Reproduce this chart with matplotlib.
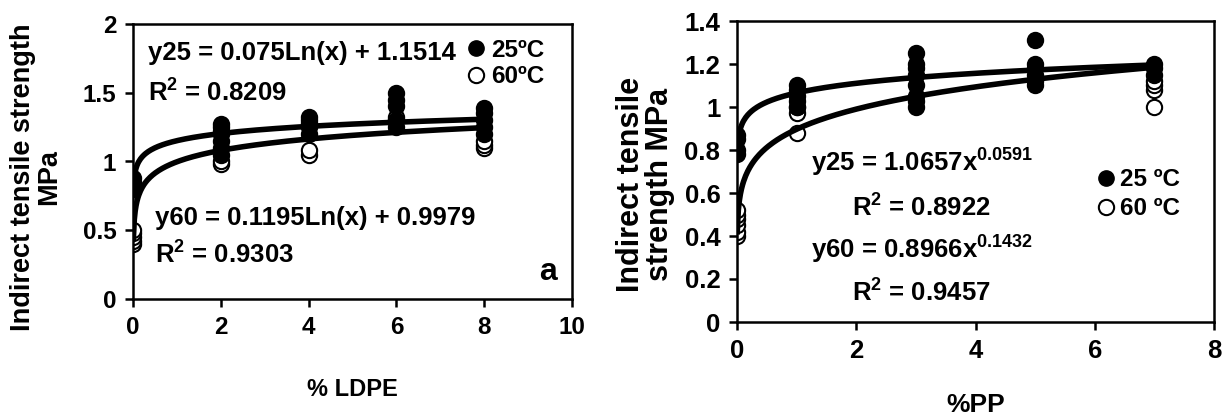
import numpy as np
import matplotlib as mpl
mpl.use('Agg')
import matplotlib.pyplot as plt
from matplotlib.lines import Line2D

plt.rcParams['font.family'] = ['Liberation Sans', 'DejaVu Sans']
plt.rcParams['font.weight'] = 'bold'
plt.rcParams['axes.labelweight'] = 'bold'
plt.rcParams['mathtext.default'] = 'regular'

# ---- panel a: LDPE ----
ldpe_x25 = [0, 0, 0, 0, 2, 2, 2, 2, 2, 2, 2, 4, 4, 4, 4, 4, 6, 6, 6, 6, 6, 8, 8, 8, 8, 8]
ldpe_y25 = [0.80, 0.82, 0.85, 0.88, 1.05, 1.10, 1.15, 1.20, 1.22, 1.25, 1.27,
            1.20, 1.25, 1.28, 1.30, 1.32, 1.25, 1.30, 1.40, 1.45, 1.50,
            1.20, 1.25, 1.30, 1.35, 1.39]
ldpe_x60 = [0, 0, 0, 0, 0, 2, 2, 4, 4, 6, 6, 8, 8, 8]
ldpe_y60 = [0.40, 0.42, 0.45, 0.48, 0.50, 0.98, 1.00, 1.05, 1.08, 1.30, 1.32, 1.10, 1.12, 1.15]
ldpe_fit25 = (0.075, 1.1514)   # a*ln(x) + b
ldpe_fit60 = (0.1195, 0.9979)

# ---- panel b: PP ----
pp_x25 = [0, 0, 0, 0, 1, 1, 1, 1, 1, 3, 3, 3, 3, 3, 3, 3, 3, 5, 5, 5, 5, 5, 5, 7, 7, 7]
pp_y25 = [0.78, 0.80, 0.85, 0.87, 1.00, 1.03, 1.05, 1.08, 1.10,
          1.00, 1.03, 1.05, 1.10, 1.15, 1.18, 1.20, 1.25,
          1.10, 1.12, 1.15, 1.18, 1.20, 1.31, 1.15, 1.18, 1.20]
pp_x60 = [0, 0, 0, 0, 0, 0, 1, 1, 1, 7, 7, 7, 7]
pp_y60 = [0.40, 0.42, 0.45, 0.48, 0.50, 0.52, 0.88, 0.97, 1.00, 1.00, 1.08, 1.10, 1.12]
pp_fit25 = (1.0657, 0.0591)    # a*x^b
pp_fit60 = (0.8966, 0.1432)

fig = plt.figure(figsize=(12.22, 4.15), dpi=100)
ax1 = fig.add_axes([133 / 1222, 1 - 299 / 415, 439 / 1222, 275 / 415])
ax2 = fig.add_axes([737 / 1222, 1 - 322 / 415, 477 / 1222, 301 / 415])

ms = 11
for ax in (ax1, ax2):
    for s in ax.spines.values():
        s.set_linewidth(1.8)
    ax.tick_params(direction='out', length=6, width=1.8, labelsize=17.5, pad=6)

# panel a
xs = np.linspace(0.01, 8, 400)
ax1.plot(xs, ldpe_fit25[0] * np.log(xs) + ldpe_fit25[1], color='black', lw=4, zorder=3)
ax1.plot(xs, ldpe_fit60[0] * np.log(xs) + ldpe_fit60[1], color='black', lw=4, zorder=3)
ax1.plot(ldpe_x60, ldpe_y60, 'o', ms=ms, mfc='white', mec='black', mew=1.5, zorder=2)
ax1.plot(ldpe_x25, ldpe_y25, 'o', ms=ms, mfc='black', mec='black', mew=1.5, zorder=2)
ax1.set_xlim(0, 10)
ax1.set_ylim(0, 2)
ax1.set_xticks([0, 2, 4, 6, 8, 10])
ax1.set_yticks([0, 0.5, 1, 1.5, 2])
ax1.set_yticklabels(['0', '0.5', '1', '1.5', '2'])
ax1.set_xlabel('% LDPE', fontsize=17, labelpad=28)
ax1.set_ylabel('Indirect tensile strength\nMPa', fontsize=19.5, linespacing=1.0)
ax1.yaxis.set_label_coords(-0.162, 0.444)
ax1.text(0.035, 0.895, 'y25 = 0.075Ln(x) + 1.1514', transform=ax1.transAxes, fontsize=18.5, va='center')
ax1.text(0.035, 0.75, 'R$^2$ = 0.8209', transform=ax1.transAxes, fontsize=18.5, va='center')
ax1.text(0.05, 0.295, 'y60 = 0.1195Ln(x) + 0.9979', transform=ax1.transAxes, fontsize=18.5, va='center')
ax1.text(0.05, 0.16, 'R$^2$ = 0.9303', transform=ax1.transAxes, fontsize=18.5, va='center')
ax1.text(0.965, 0.1, 'a', transform=ax1.transAxes, fontsize=23, ha='right', va='center')
h1 = [Line2D([], [], ls='', marker='o', ms=ms, mfc='black', mec='black'),
      Line2D([], [], ls='', marker='o', ms=ms, mfc='white', mec='black', mew=1.5)]
ax1.legend(h1, ['25ºC', '60ºC'], loc='upper right', bbox_to_anchor=(0.97, 1.0), frameon=False,
           fontsize=17.5, handletextpad=0.1, labelspacing=0.15, handlelength=1.0, borderaxespad=0.2)

# panel b
xs = np.linspace(0.005, 7, 400)
ax2.plot(xs, pp_fit25[0] * xs ** pp_fit25[1], color='black', lw=4, zorder=3)
ax2.plot(xs, pp_fit60[0] * xs ** pp_fit60[1], color='black', lw=4, zorder=3)
ax2.plot(pp_x60, pp_y60, 'o', ms=ms, mfc='white', mec='black', mew=1.5, zorder=2)
ax2.plot(pp_x25, pp_y25, 'o', ms=ms, mfc='black', mec='black', mew=1.5, zorder=2)
ax2.set_xlim(0, 8)
ax2.set_ylim(0, 1.4)
ax2.set_xticks([0, 2, 4, 6, 8])
ax2.set_yticks([0, 0.2, 0.4, 0.6, 0.8, 1.0, 1.2, 1.4])
ax2.set_yticklabels(['0', '0.2', '0.4', '0.6', '0.8', '1', '1.2', '1.4'])
ax2.tick_params(labelsize=18.5)
ax2.set_xlabel('%PP', fontsize=19, labelpad=22)
ax2.set_ylabel('Indirect tensile\nstrength MPa', fontsize=22, linespacing=0.95)
ax2.yaxis.set_label_coords(-0.13, 0.458)
ax2.text(0.387, 0.53, 'y25 = 1.0657x$^{0.0591}$', transform=ax2.transAxes, fontsize=18.5, ha='center', va='center')
ax2.text(0.387, 0.38, 'R$^2$ = 0.8922', transform=ax2.transAxes, fontsize=18.5, ha='center', va='center')
ax2.text(0.387, 0.24, 'y60 = 0.8966x$^{0.1432}$', transform=ax2.transAxes, fontsize=18.5, ha='center', va='center')
ax2.text(0.387, 0.095, 'R$^2$ = 0.9457', transform=ax2.transAxes, fontsize=18.5, ha='center', va='center')
h2 = [Line2D([], [], ls='', marker='o', ms=ms, mfc='black', mec='black'),
      Line2D([], [], ls='', marker='o', ms=ms, mfc='white', mec='black', mew=1.5)]
ax2.legend(h2, ['25 ºC', '60 ºC'], loc='upper right', bbox_to_anchor=(0.96, 0.56), frameon=False,
           fontsize=17.5, handletextpad=0.1, labelspacing=0.25, handlelength=1.0, borderaxespad=0.2)

fig.savefig('out.png', dpi=100)
